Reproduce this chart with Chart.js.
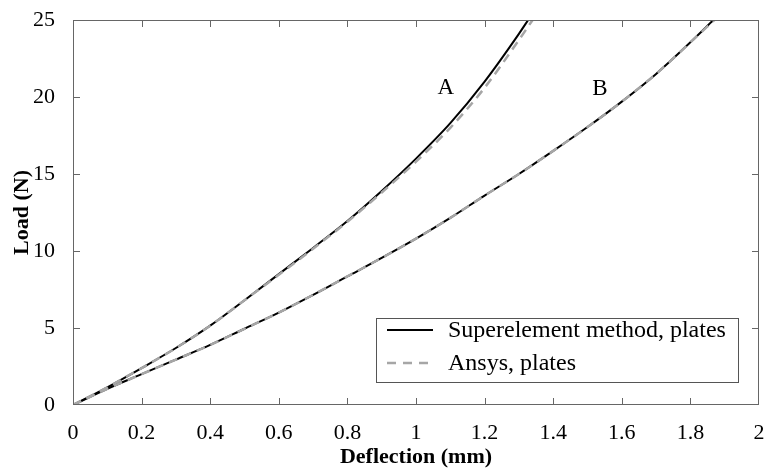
<!DOCTYPE html>
<html>
<head>
<meta charset="utf-8">
<script src="https://cdn.jsdelivr.net/npm/chart.js@4/dist/chart.umd.min.js"></script>
<style>
  html, body { margin: 0; padding: 0; background: #fff; }
  #wrap { width: 767px; height: 475px; }
</style>
</head>
<body>
<div id="wrap"><canvas id="myChart" width="767" height="475"></canvas></div>
<script>
// Curve A: superelement method
const deflA = [0, 0.1, 0.2, 0.3, 0.4, 0.5, 0.6, 0.7, 0.8, 0.9, 1.0, 1.1, 1.2, 1.3, 1.327];
const loadA = [0, 1.15, 2.4, 3.7, 5.15, 6.8, 8.5, 10.2, 11.95, 13.9, 16.0, 18.3, 21.0, 24.1, 25];
// Curve A: Ansys
const deflAnsysA = [0, 0.1, 0.2, 0.3, 0.4, 0.5, 0.6, 0.7, 0.8, 0.9, 1.0, 1.1, 1.2, 1.3, 1.34];
const loadAnsysA = [0, 1.15, 2.4, 3.7, 5.15, 6.8, 8.45, 10.15, 11.9, 13.8, 15.8, 18.0, 20.6, 23.7, 25];
// Curve B: superelement method
const deflB = [0, 0.1, 0.2, 0.3, 0.4, 0.5, 0.6, 0.7, 0.8, 0.9, 1.0, 1.1, 1.2, 1.3, 1.4, 1.5, 1.6, 1.7, 1.8, 1.867];
const loadB = [0, 1.05, 2.0, 2.95, 3.9, 4.95, 6.0, 7.15, 8.35, 9.55, 10.8, 12.15, 13.6, 15.0, 16.5, 18.05, 19.7, 21.5, 23.55, 25];
// Curve B: Ansys
const deflAnsysB = [0, 0.1, 0.2, 0.3, 0.4, 0.5, 0.6, 0.7, 0.8, 0.9, 1.0, 1.1, 1.2, 1.3, 1.4, 1.5, 1.6, 1.7, 1.8, 1.87];
const loadAnsysB = [0, 1.05, 2.0, 2.95, 3.9, 4.95, 6.0, 7.15, 8.35, 9.55, 10.8, 12.15, 13.6, 15.0, 16.5, 18.05, 19.7, 21.5, 23.55, 25];

const xTicks = [0, 0.2, 0.4, 0.6, 0.8, 1, 1.2, 1.4, 1.6, 1.8, 2];
const yTicks = [0, 5, 10, 15, 20, 25];
const legendLabels = ['Superelement method, plates', 'Ansys, plates'];
const curveLabels = [
  { text: 'A', x: 1.087, y: 20.56 },
  { text: 'B', x: 1.536, y: 20.5 }
];

const serif = "'Liberation Serif', 'Times New Roman', serif";
const blackLine = '#000';
const grayLine = '#a6a6a6';
const frameColor = '#666';

const toPoints = (xs, ys) => xs.map((x, i) => ({ x, y: ys[i] }));

function solid(data) {
  return {
    data, borderColor: blackLine, borderWidth: 2, pointRadius: 0,
    cubicInterpolationMode: 'monotone', fill: false, order: 2
  };
}
function dashed(data) {
  return {
    data, borderColor: grayLine, borderWidth: 2.5, borderDash: [9, 6], pointRadius: 0,
    cubicInterpolationMode: 'monotone', fill: false, order: 1
  };
}

// frame, inward ticks, in-plot legend and curve labels
const decorations = {
  id: 'decorations',
  afterDraw(chart) {
    const { ctx, chartArea: a, scales } = chart;
    const tl = 7;
    ctx.save();
    ctx.strokeStyle = frameColor;
    ctx.lineWidth = 1;
    ctx.strokeRect(a.left + 0.5, a.top + 0.5, a.right - a.left - 1, a.bottom - a.top - 1);
    ctx.beginPath();
    xTicks.slice(1, -1).forEach(v => {
      const px = Math.round(scales.x.getPixelForValue(v)) + 0.5;
      ctx.moveTo(px, a.bottom); ctx.lineTo(px, a.bottom - tl);
      ctx.moveTo(px, a.top); ctx.lineTo(px, a.top + tl);
    });
    yTicks.slice(1, -1).forEach(v => {
      const py = Math.round(scales.y.getPixelForValue(v)) + 0.5;
      ctx.moveTo(a.left, py); ctx.lineTo(a.left + tl, py);
      ctx.moveTo(a.right, py); ctx.lineTo(a.right - tl, py);
    });
    ctx.stroke();

    // legend
    const lx = 376, ly = 318, lw = 362, lh = 64;
    ctx.fillStyle = '#fff';
    ctx.fillRect(lx, ly, lw, lh);
    ctx.strokeStyle = '#555';
    ctx.strokeRect(lx + 0.5, ly + 0.5, lw, lh);
    const rows = [
      { y: ly + 12, color: blackLine, width: 2, dash: [] },
      { y: ly + 45, color: grayLine, width: 2.5, dash: [9, 7] }
    ];
    ctx.font = '24px ' + serif;
    ctx.textBaseline = 'middle';
    ctx.textAlign = 'left';
    rows.forEach((r, i) => {
      ctx.beginPath();
      ctx.setLineDash(r.dash);
      ctx.strokeStyle = r.color;
      ctx.lineWidth = r.width;
      ctx.moveTo(lx + 11, r.y); ctx.lineTo(lx + 57, r.y);
      ctx.stroke();
      ctx.setLineDash([]);
      ctx.fillStyle = '#000';
      ctx.fillText(legendLabels[i], lx + 72, r.y + 1);
    });

    // curve labels
    ctx.font = '23px ' + serif;
    ctx.textAlign = 'center';
    curveLabels.forEach(l => {
      ctx.fillText(l.text, scales.x.getPixelForValue(l.x), scales.y.getPixelForValue(l.y));
    });
    ctx.restore();
  }
};

const ctx = document.getElementById('myChart').getContext('2d');
new Chart(ctx, {
  type: 'line',
  data: {
    datasets: [
      solid(toPoints(deflA, loadA)),
      dashed(toPoints(deflAnsysA, loadAnsysA)),
      solid(toPoints(deflB, loadB)),
      dashed(toPoints(deflAnsysB, loadAnsysB))
    ]
  },
  options: {
    responsive: false,
    animation: false,
    layout: { padding: { top: 20, right: 8, left: 0, bottom: 0 } },
    plugins: { legend: { display: false }, tooltip: { enabled: false } },
    scales: {
      x: {
        type: 'linear', min: 0, max: 2,
        afterBuildTicks: s => { s.ticks = xTicks.map(v => ({ value: v })); },
        afterFit: s => { s.height = 70; s.paddingLeft = 0; s.paddingRight = 0; },
        grid: { display: false },
        border: { display: false },
        ticks: {
          color: '#000', padding: 7, maxRotation: 0,
          font: { family: serif, size: 22 },
          callback: v => String(v)
        },
        title: {
          display: true, text: 'Deflection (mm)', color: '#000',
          padding: { top: 0, bottom: 4 },
          font: { family: serif, size: 22, weight: 'bold' }
        }
      },
      y: {
        type: 'linear', min: 0, max: 25,
        afterBuildTicks: s => { s.ticks = yTicks.map(v => ({ value: v })); },
        afterFit: s => { s.width = 73; s.paddingTop = 0; s.paddingBottom = 0; },
        grid: { display: false },
        border: { display: false },
        ticks: {
          color: '#000', padding: 10,
          font: { family: serif, size: 22 },
          callback: v => String(v)
        },
        title: {
          display: true, text: 'Load (N)', color: '#000',
          padding: { top: 9, bottom: 0 },
          font: { family: serif, size: 22, weight: 'bold' }
        }
      }
    }
  },
  plugins: [decorations]
});
</script>
</body>
</html>
